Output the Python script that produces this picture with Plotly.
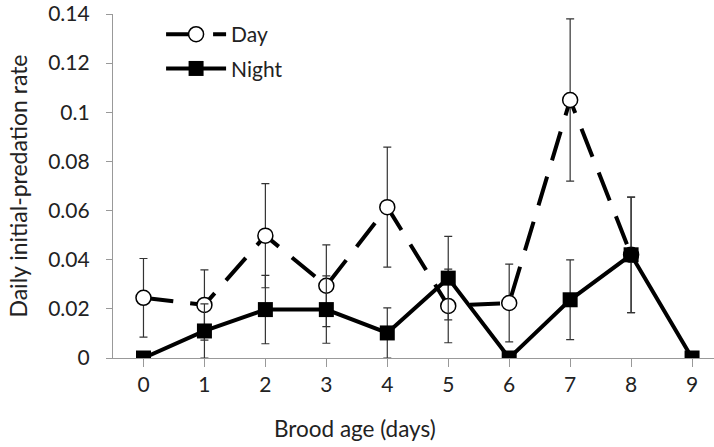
import plotly.graph_objects as go

ages = [0, 1, 2, 3, 4, 5, 6, 7, 8, 9]
day_rate = [0.0245, 0.0216, 0.0498, 0.0294, 0.0614, 0.0212, 0.0224, 0.1050, 0.0420, None]
day_err = [0.0160, 0.0143, 0.0212, 0.0166, 0.0244, 0.0150, 0.0158, 0.0330, 0.0235, 0]
night_rate = [0.0, 0.0110, 0.0197, 0.0197, 0.0102, 0.0325, 0.0, 0.0237, 0.0420, 0.0]
night_err = [0, 0.0110, 0.0139, 0.0137, 0.0102, 0.0170, 0, 0.0162, 0.0235, 0]

FONT = "Lato, Carlito, 'Open Sans', sans-serif"

fig = go.Figure()
fig.add_trace(go.Scatter(
    x=ages, y=day_rate, name="Day", mode="lines+markers", legendgroup="d",
    line=dict(color="black", width=4, dash="30px,17px"),
    marker=dict(symbol="circle", size=15, color="white", line=dict(color="black", width=1.5)),
    error_y=dict(type="data", array=day_err, visible=True, color="#333", thickness=1.2, width=4),
    connectgaps=False,
))
fig.add_trace(go.Scatter(
    x=ages, y=night_rate, name="Night", mode="lines+markers", legendgroup="n",
    line=dict(color="black", width=4),
    marker=dict(symbol="square", size=15, color="black"),
    error_y=dict(type="data", array=night_err, visible=True, color="#333", thickness=1.2, width=4),
))

fig.update_layout(
    width=714, height=447,
    margin=dict(l=113, r=0, t=14, b=89, autoexpand=False),
    paper_bgcolor="white", plot_bgcolor="white",
    font=dict(family=FONT, size=21, color="#222"),
    showlegend=True,
    legend=dict(x=0.08, y=1.0, xanchor="left", yanchor="top",
                bgcolor="rgba(0,0,0,0)", font=dict(size=21),
                traceorder="grouped", itemwidth=60, tracegroupgap=4),
    xaxis=dict(
        range=[-0.5, 9.36], tickmode="array", tickvals=ages,
        ticktext=[str(a) for a in ages],
        showline=True, linecolor="#999", linewidth=1.2,
        ticks="outside", ticklen=8, tickcolor="#999",
        showgrid=False, zeroline=False, automargin=False,
        tickfont=dict(size=21),
    ),
    yaxis=dict(
        range=[0, 0.14], tickmode="array",
        tickvals=[0, 0.02, 0.04, 0.06, 0.08, 0.1, 0.12, 0.14],
        ticktext=["0", "0.02", "0.04", "0.06", "0.08", "0.1", "0.12", "0.14"],
        showline=True, linecolor="#999", linewidth=1.2,
        ticks="outside", ticklen=6, tickcolor="#999",
        ticklabelstandoff=12,
        showgrid=False, zeroline=False, automargin=False,
        title=dict(text="Daily initial-predation rate", font=dict(size=23), standoff=14),
        tickfont=dict(size=21),
    ),
    annotations=[dict(
        text="Brood age (days)", xref="paper", yref="paper",
        x=0.4027, y=-0.2035, xanchor="center", yanchor="middle",
        showarrow=False, font=dict(size=22.5),
    )],
)

fig.write_html(
    "out.html",
    config={"displayModeBar": False},
    post_script="document.body.style.margin='0px';document.body.style.overflow='hidden';",
)
